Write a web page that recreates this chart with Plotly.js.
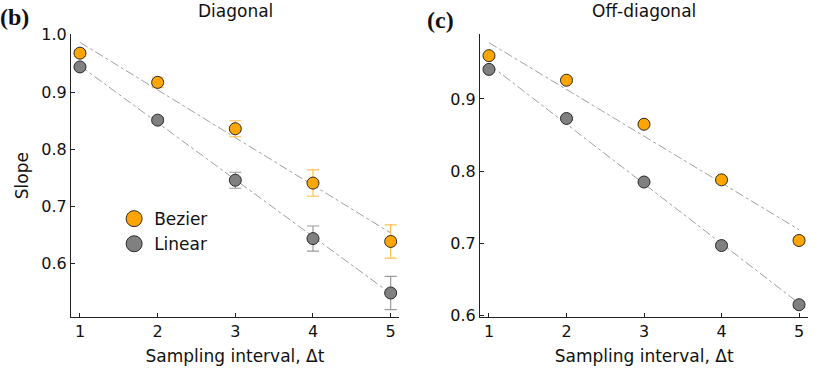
<!DOCTYPE html>
<html>
<head>
<meta charset="utf-8">
<script src="https://cdn.plot.ly/plotly-3.0.1.min.js"></script>
<style>
  html, body { margin: 0; padding: 0; background: #ffffff; }
  #chart { width: 830px; height: 369px; }
</style>
</head>
<body>
<div id="chart"></div>
<script>
(function () {
  "use strict";

  const INTERVALS = [1, 2, 3, 4, 5];
  const FIT_X = [1, 5];

  // panel (b) Diagonal
  const DIAG_BEZIER = [0.968, 0.917, 0.836, 0.741, 0.639];
  const DIAG_BEZIER_ERR = [0.005, 0.009, 0.014, 0.023, 0.029];
  const DIAG_LINEAR = [0.944, 0.851, 0.746, 0.644, 0.549];
  const DIAG_LINEAR_ERR = [0.004, 0.005, 0.014, 0.022, 0.029];
  const DIAG_BEZIER_FIT = [0.987, 0.654];
  const DIAG_LINEAR_FIT = [0.946, 0.548];

  // panel (c) Off-diagonal
  const OFF_BEZIER = [0.960, 0.926, 0.865, 0.788, 0.704];
  const OFF_BEZIER_ERR = [0.002, 0.002, 0.003, 0.004, 0.005];
  const OFF_LINEAR = [0.941, 0.873, 0.785, 0.697, 0.615];
  const OFF_LINEAR_ERR = [0.002, 0.002, 0.002, 0.003, 0.004];
  const OFF_BEZIER_FIT = [0.978, 0.719];
  const OFF_LINEAR_FIT = [0.948, 0.617];

  const COLORS = {
    bezier: "#ffa500",
    bezierErr: "#ffbf4a",
    linear: "#808080",
    linearErr: "#9a9a9a",
    fit: "#a0a0a0",
    outline: "#2a2a2a",
    axis: "#222222"
  };
  const FONT = "DejaVu Sans, sans-serif";

  function fitTrace(values, xa, ya) {
    return {
      x: FIT_X, y: values, xaxis: xa, yaxis: ya,
      mode: "lines", type: "scatter", showlegend: false, hoverinfo: "skip",
      line: { color: COLORS.fit, width: 1, dash: "dashdot" }
    };
  }

  function pointTrace(values, errs, color, errColor, xa, ya) {
    return {
      x: INTERVALS, y: values, xaxis: xa, yaxis: ya,
      mode: "markers", type: "scatter", showlegend: false,
      marker: { color: color, size: 12, line: { color: COLORS.outline, width: 1 } },
      error_y: { type: "data", array: errs, visible: true, color: errColor, thickness: 1.2, width: 6 }
    };
  }

  function legendTrace(name, color) {
    return {
      x: [null], y: [null], name: name, mode: "markers", type: "scatter",
      marker: { color: color, size: 16, line: { color: COLORS.outline, width: 1 } }
    };
  }

  const traces = [
    fitTrace(DIAG_BEZIER_FIT, "x", "y"),
    fitTrace(DIAG_LINEAR_FIT, "x", "y"),
    pointTrace(DIAG_BEZIER, DIAG_BEZIER_ERR, COLORS.bezier, COLORS.bezierErr, "x", "y"),
    pointTrace(DIAG_LINEAR, DIAG_LINEAR_ERR, COLORS.linear, COLORS.linearErr, "x", "y"),
    fitTrace(OFF_BEZIER_FIT, "x2", "y2"),
    fitTrace(OFF_LINEAR_FIT, "x2", "y2"),
    pointTrace(OFF_BEZIER, OFF_BEZIER_ERR, COLORS.bezier, COLORS.bezierErr, "x2", "y2"),
    pointTrace(OFF_LINEAR, OFF_LINEAR_ERR, COLORS.linear, COLORS.linearErr, "x2", "y2"),
    legendTrace("Bezier", COLORS.bezier),
    legendTrace("Linear", COLORS.linear)
  ];

  const xBase = {
    tickvals: INTERVALS,
    ticks: "inside", ticklen: 4, tickcolor: COLORS.axis,
    showline: true, linecolor: COLORS.axis, linewidth: 1,
    showgrid: false, zeroline: false,
    tickfont: { size: 16, color: "#111" },
    title: { text: "Sampling interval, Δt", font: { size: 17, color: "#111" }, standoff: 9 }
  };
  const yBase = {
    ticks: "inside", ticklen: 4, tickcolor: COLORS.axis,
    showline: true, linecolor: COLORS.axis, linewidth: 1,
    showgrid: false, zeroline: false,
    tickfont: { size: 16, color: "#111" },
    tickformat: ".1f"
  };

  function note(text, x, y, size, family, anchor) {
    return {
      text: text, x: x, y: y, xref: "paper", yref: "paper",
      xanchor: anchor || "center", yanchor: "middle", showarrow: false,
      font: { size: size, family: family || FONT, color: "#111" }
    };
  }

  const layout = {
    width: 830,
    height: 369,
    margin: { t: 0, r: 0, b: 0, l: 0 },
    paper_bgcolor: "#ffffff",
    plot_bgcolor: "#ffffff",
    font: { family: FONT, color: "#111" },
    showlegend: true,
    legend: {
      x: 0.1375, y: 0.455, xanchor: "left", yanchor: "top",
      bgcolor: "rgba(0,0,0,0)", font: { size: 17 }, tracegroupgap: 0
    },
    xaxis: Object.assign({}, xBase, { domain: [0.0855, 0.4807], range: [0.884, 5.107], anchor: "y" }),
    yaxis: Object.assign({}, yBase, {
      domain: [0.1409, 0.907], range: [0.507, 1.001], anchor: "x",
      tickvals: [0.6, 0.7, 0.8, 0.9, 1.0],
      title: { text: "Slope", font: { size: 17, color: "#111" }, standoff: 8 }
    }),
    xaxis2: Object.assign({}, xBase, { domain: [0.5783, 0.9739], range: [0.884, 5.12], anchor: "y2" }),
    yaxis2: Object.assign({}, yBase, {
      domain: [0.1409, 0.907], range: [0.598, 0.9896], anchor: "x2",
      tickvals: [0.6, 0.7, 0.8, 0.9]
    }),
    annotations: [
      note("Diagonal", 0.2843, 0.970, 17),
      note("Off-diagonal", 0.776, 0.970, 17),
      note("<b>(b)</b>", -0.002, 0.953, 24, "Liberation Serif, serif", "left"),
      note("<b>(c)</b>", 0.5115, 0.945, 24, "Liberation Serif, serif", "left")
    ]
  };

  Plotly.newPlot("chart", traces, layout, { displayModeBar: false, staticPlot: true });
})();
</script>
</body>
</html>
